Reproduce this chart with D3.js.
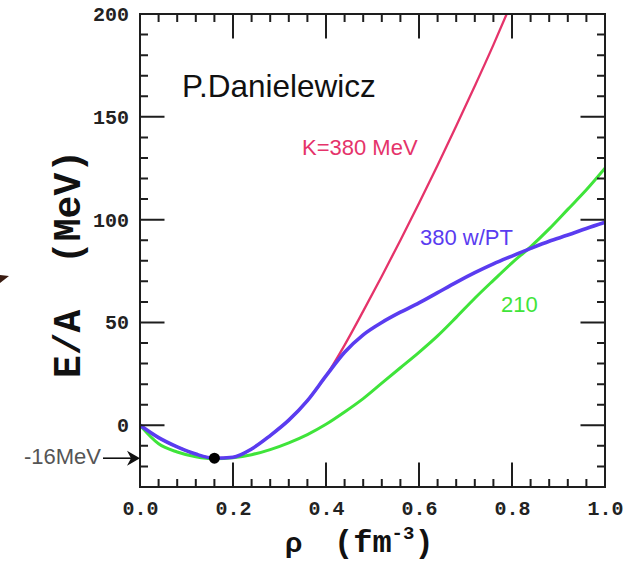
<!DOCTYPE html>
<html>
<head>
<meta charset="utf-8">
<script src="https://cdn.jsdelivr.net/npm/d3@7"></script>
<style>
  html, body { margin: 0; padding: 0; background: #fff; }
  svg { display: block; }
  .mono { font-family: "Liberation Mono", "DejaVu Sans Mono", monospace; font-weight: bold; }
  .sans { font-family: "Liberation Sans", Arial, sans-serif; }
</style>
</head>
<body>
<svg id="chart" width="631" height="570"></svg>
<script>
// Energy per nucleon E/A (MeV) vs density rho (fm^-3)
const density = [0, 0.04, 0.08, 0.12, 0.16, 0.2, 0.24, 0.28, 0.32, 0.36, 0.4,
                 0.44, 0.48, 0.52, 0.56, 0.6, 0.64, 0.68, 0.72, 0.76, 0.8,
                 0.84, 0.88, 0.92, 0.96, 1.0];

// K = 380 MeV (stiff)
const stiffEoS = [0, -6, -10.5, -14, -16, -15.5, -11.5, -5, 2.5, 12, 24,
                  39, 55.5, 72.5, 90, 108, 126.5, 145.5, 165, 185, 206];
// 380 MeV with phase transition
const transitionEoS = [0, -6, -10.5, -14, -16, -15.5, -11.5, -5, 2.5, 12, 24,
                       35.5, 44, 50, 55, 59.5, 64.5, 69.5, 74.2, 78.5, 82.3,
                       86, 89.5, 92.5, 95.7, 98.7];
// K = 210 MeV (soft)
const softEoS = [0, -9, -13, -15.3, -16.3, -15.8, -14.3, -11.8, -8.5, -4.5, 0.5,
                 6.5, 13, 20.5, 28, 35.5, 43.5, 52.5, 61.8, 70.5, 79,
                 86.8, 95.5, 105, 114.5, 125];

const saturation = { rho: 0.16, e: -16 };

const xTickLabels = [0, 0.2, 0.4, 0.6, 0.8, 1.0];
const yTickLabels = [0, 50, 100, 150, 200];

const svg = d3.select("#chart");
const plotLeft = 140, plotRight = 605, plotTop = 14, plotBottom = 487;

const x = d3.scaleLinear().domain([0, 1]).range([plotLeft, plotRight]);
const y = d3.scaleLinear().domain([-30, 200]).range([plotBottom, plotTop]);

const axisColor = "#1e1e1e";
const majorLen = 24.5, minorLen = 8;

const xMajor = xTickLabels.slice(1, -1);
const yMajor = yTickLabels.slice(0, -1);
const xMinor = d3.range(1, 25).map(i => i * 0.04).filter((v, i) => (i + 1) % 5 !== 0);
const yMinor = d3.range(-20, 200, 10).filter(v => v % 50 !== 0);

// tick labels
const xLab = svg.append("g").attr("transform", `translate(0,${plotBottom})`)
  .call(d3.axisBottom(x).tickValues(xTickLabels).tickSize(0).tickPadding(14).tickFormat(d3.format(".1f")));
xLab.select(".domain").remove();
xLab.selectAll("text").attr("class", "mono").attr("font-size", 20).attr("fill", "#222");

const yLab = svg.append("g").attr("transform", `translate(${plotLeft},0)`)
  .call(d3.axisLeft(y).tickValues(yTickLabels).tickSize(0).tickPadding(11).tickFormat(d3.format("d")));
yLab.select(".domain").remove();
yLab.selectAll("text").attr("class", "mono").attr("font-size", 20).attr("fill", "#222");

// curves
svg.append("clipPath").attr("id", "plot-clip")
  .append("rect").attr("x", plotLeft).attr("y", plotTop)
  .attr("width", plotRight - plotLeft).attr("height", plotBottom - plotTop);

const line = d3.line().x(d => x(d[0])).y(d => y(d[1])).curve(d3.curveMonotoneX);
const pairs = vals => vals.map((v, i) => [density[i], v]);

const curves = svg.append("g").attr("clip-path", "url(#plot-clip)").style("fill", "none")
  .attr("stroke-linejoin", "round").attr("stroke-linecap", "round");
curves.append("path").attr("d", line(pairs(stiffEoS))).attr("stroke", "#e5336a").attr("stroke-width", 2.3);
curves.append("path").attr("d", line(pairs(softEoS))).attr("stroke", "#3fe43a").attr("stroke-width", 3);
curves.append("path").attr("d", line(pairs(transitionEoS))).attr("stroke", "#5a3cf0").attr("stroke-width", 3.6);

// saturation point
svg.append("circle").attr("cx", x(saturation.rho)).attr("cy", y(saturation.e)).attr("r", 5.5).attr("fill", "#000");

// frame and inward ticks on all four sides, as one path
const frame = d3.path();
frame.rect(plotLeft, plotTop, plotRight - plotLeft, plotBottom - plotTop);
function addXTicks(values, len) {
  values.forEach(v => {
    frame.moveTo(x(v), plotBottom); frame.lineTo(x(v), plotBottom - len);
    frame.moveTo(x(v), plotTop);    frame.lineTo(x(v), plotTop + len);
  });
}
function addYTicks(values, len) {
  values.forEach(v => {
    frame.moveTo(plotLeft, y(v));  frame.lineTo(plotLeft + len, y(v));
    frame.moveTo(plotRight, y(v)); frame.lineTo(plotRight - len, y(v));
  });
}
addXTicks(xMajor, majorLen);
addXTicks(xMinor, minorLen);
addYTicks(yMajor, majorLen);
addYTicks(yMinor, minorLen);
svg.append("path").attr("d", frame.toString())
  .attr("fill", "none").attr("stroke", axisColor).attr("stroke-width", 2);

// curve labels
svg.append("text").attr("class", "sans").attr("x", 302).attr("y", 155).attr("font-size", 22)
  .attr("fill", "#e5336a").text("K=380 MeV");
svg.append("text").attr("class", "sans").attr("x", 420).attr("y", 245).attr("font-size", 22)
  .attr("fill", "#5a3cf0").text("380 w/PT");
svg.append("text").attr("class", "sans").attr("x", 501).attr("y", 312).attr("font-size", 22)
  .attr("fill", "#3fe43a").text("210");

svg.append("text").attr("class", "sans").attr("x", 182).attr("y", 96.5).attr("font-size", 31.5)
  .attr("fill", "#111").text("P.Danielewicz");

// -16 MeV marker
svg.append("text").attr("class", "sans").attr("x", 101).attr("y", 464).attr("text-anchor", "end")
  .attr("font-size", 22).attr("fill", "#555").text("-16MeV");
const ay = y(saturation.e);
svg.append("line").attr("x1", 103).attr("x2", 132).attr("y1", ay).attr("y2", ay)
  .attr("stroke", "#111").attr("stroke-width", 1.6);
svg.append("path")
  .attr("d", `M${plotLeft},${ay} L${plotLeft - 13},${ay - 7.5} L${plotLeft - 9},${ay} L${plotLeft - 13},${ay + 7.5} Z`)
  .attr("fill", "#111");

// fragment of a pointer at the left edge
svg.append("path").attr("d", "M0,275 L9,276 L0,283 Z").attr("fill", "#3a1c12");

// axis titles
svg.append("text").attr("class", "mono").attr("font-size", 38).attr("fill", "#111")
  .attr("text-anchor", "middle").attr("transform", "translate(80,264) rotate(-90)")
  .style("white-space", "pre").text("E/A  (MeV)");

const xt = svg.append("text").attr("y", 552).attr("fill", "#111").style("white-space", "pre");
xt.append("tspan").attr("class", "sans").attr("font-weight", "bold").attr("font-size", 28).attr("x", 285).text("ρ");
xt.append("tspan").attr("class", "mono").attr("font-size", 32).attr("x", 334).text("(fm");
xt.append("tspan").attr("class", "mono").attr("font-size", 19).attr("dy", -13).text("-3");
xt.append("tspan").attr("class", "mono").attr("font-size", 32).attr("dy", 13).text(")");
</script>
</body>
</html>
